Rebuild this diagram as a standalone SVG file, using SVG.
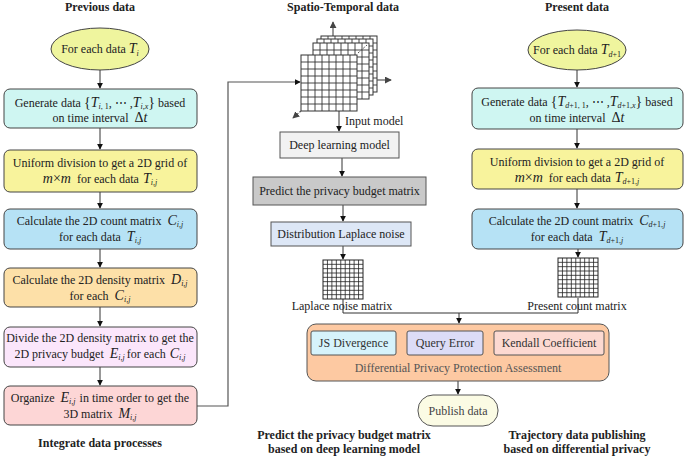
<svg xmlns="http://www.w3.org/2000/svg" xmlns:xlink="http://www.w3.org/1999/xlink" width="685" height="458" viewBox="0 0 685 458">
<style>
text{font-family:"Liberation Serif","Times New Roman",serif;font-size:12px;fill:#222}
.h{font-weight:bold;font-size:12px}
.c{text-anchor:middle}
.m{font-style:italic;font-size:14px}
.mu{font-size:14px}
.s{font-style:italic;font-size:8px}
.u{font-size:8px}
.box{stroke:#444;stroke-width:1}
.ln{fill:none;stroke:#333;stroke-width:1}
.gl{fill:none;stroke:#555;stroke-width:1.2}
</style>
<defs>
<marker id="ah" viewBox="0 0 8 8" refX="7" refY="4" markerWidth="6" markerHeight="6" orient="auto" markerUnits="userSpaceOnUse"><path d="M0,0 L8,4 L0,8 z" fill="#111"/></marker>
<marker id="ag" viewBox="0 0 8 8" refX="7" refY="4" markerWidth="7" markerHeight="7" orient="auto" markerUnits="userSpaceOnUse"><path d="M0,0 L8,4 L0,8 z" fill="#444"/></marker>
<g id="g56">
<rect x="0" y="0" width="56" height="56" fill="#fff" stroke="#333" stroke-width="1"/>
<path d="M7,0V56M14,0V56M21,0V56M28,0V56M35,0V56M42,0V56M49,0V56M0,7H56M0,14H56M0,21H56M0,28H56M0,35H56M0,42H56M0,49H56" stroke="#333" stroke-width="0.9"/>
</g>
<g id="g40">
<rect x="0" y="0" width="40" height="39" fill="#fff" stroke="#222" stroke-width="1"/>
<path d="M4.44,0V39M8.89,0V39M13.33,0V39M17.78,0V39M22.22,0V39M26.67,0V39M31.11,0V39M35.56,0V39M0,4.33H40M0,8.67H40M0,13H40M0,17.33H40M0,21.67H40M0,26H40M0,30.33H40M0,34.67H40" stroke="#222" stroke-width="0.8"/>
</g>
</defs>

<!-- headers -->
<text class="h c" x="100" y="11">Previous data</text>
<text class="h c" x="343" y="11">Spatio-Temporal data</text>
<text class="h c" x="577" y="11">Present data</text>

<!-- connectors -->
<g id="connectors">
<path class="ln" d="M100,70V88" marker-end="url(#ah)"/>
<path class="ln" d="M100,128V149" marker-end="url(#ah)"/>
<path class="ln" d="M100,192V208" marker-end="url(#ah)"/>
<path class="ln" d="M100,249V267" marker-end="url(#ah)"/>
<path class="ln" d="M100,307V326" marker-end="url(#ah)"/>
<path class="ln" d="M100,367V385" marker-end="url(#ah)"/>
<path class="gl" d="M197,406H228V82H300" marker-end="url(#ah)"/>
<path class="ln" d="M339,111V131" marker-end="url(#ah)"/>
<path class="ln" d="M342,158V176" marker-end="url(#ah)"/>
<path class="ln" d="M343,205V221" marker-end="url(#ah)"/>
<path class="ln" d="M343,246V259" marker-end="url(#ah)"/>
<path class="ln" d="M343,299V313H578V298"/>
<path class="ln" d="M459,313V323" marker-end="url(#ah)"/>
<path class="ln" d="M458,381V394" marker-end="url(#ah)"/>
<path class="ln" d="M577,70V87" marker-end="url(#ah)"/>
<path class="ln" d="M577,129V148" marker-end="url(#ah)"/>
<path class="ln" d="M577,189V208" marker-end="url(#ah)"/>
<path class="ln" d="M578,249V257" marker-end="url(#ah)"/>
</g>

<!-- left column -->
<g id="l0">
<ellipse cx="100" cy="49" rx="49" ry="21" fill="#eff59e" class="box"/>
<text class="c" x="100" y="53">For each data <tspan class="m">T</tspan><tspan class="s" dy="3">i</tspan></text>
</g>
<g id="l1">
<rect x="4" y="89" width="193" height="39" rx="6" fill="#cff6f2" class="box"/>
<text class="c" x="100" y="107">Generate data <tspan class="mu">{</tspan><tspan class="m">T</tspan><tspan class="s" dy="2">i</tspan><tspan class="u">, 1</tspan><tspan dy="-2">, ⋯ ,</tspan><tspan class="m">T</tspan><tspan class="s" dy="2">i,x</tspan><tspan class="mu" dy="-2">}</tspan> based</text>
<text class="c" x="100" y="122">on time interval <tspan class="mu" dx="3">Δ</tspan><tspan class="m">t</tspan></text>
</g>
<g id="l2">
<rect x="4" y="150" width="193" height="42" rx="6" fill="#f8f39c" class="box"/>
<text class="c" x="100" y="167">Uniform division to get a 2D grid of</text>
<text class="c" x="100" y="183"><tspan class="m">m</tspan><tspan class="mu">×</tspan><tspan class="m">m</tspan><tspan dx="6">for each data</tspan><tspan class="m" dx="4">T</tspan><tspan class="s" dy="2">i,j</tspan></text>
</g>
<g id="l3">
<rect x="4" y="209" width="193" height="40" rx="6" fill="#b6e2f5" class="box"/>
<text class="c" x="100" y="225">Calculate the 2D count matrix <tspan class="m" dx="3">C</tspan><tspan class="s" dy="2">i,j</tspan></text>
<text class="c" x="100" y="241">for each data <tspan class="m" dx="3">T</tspan><tspan class="s" dy="2">i,j</tspan></text>
</g>
<g id="l4">
<rect x="4" y="268" width="193" height="39" rx="6" fill="#fde0a8" class="box"/>
<text class="c" x="100" y="284">Calculate the 2D density matrix <tspan class="m" dx="3">D</tspan><tspan class="s" dy="2">i,j</tspan></text>
<text class="c" x="100" y="300">for each <tspan class="m" dx="3">C</tspan><tspan class="s" dy="2">i,j</tspan></text>
</g>
<g id="l5">
<rect x="4" y="327" width="193" height="40" rx="6" fill="#fbe6fb" class="box"/>
<text class="c" x="100" y="342">Divide the 2D density matrix to get the</text>
<text class="c" x="100" y="358">2D privacy budget <tspan class="m" dx="3">E</tspan><tspan class="s" dy="2">i,j</tspan><tspan dy="-2" dx="2">for each</tspan><tspan class="m" dx="4">C</tspan><tspan class="s" dy="2">i,j</tspan></text>
</g>
<g id="l6">
<rect x="4" y="386" width="193" height="39" rx="6" fill="#fdd6d6" class="box"/>
<text class="c" x="100" y="402">Organize <tspan class="m" dx="3">E</tspan><tspan class="s" dy="2">i,j</tspan><tspan dy="-2" dx="4">in time order to get the</tspan></text>
<text class="c" x="100" y="418">3D matrix <tspan class="m" dx="3">M</tspan><tspan class="s" dy="2">i,j</tspan></text>
</g>
<text class="h c" x="100" y="447">Integrate data processes</text>

<!-- middle: 3D grid -->
<g id="st-grid">
<path class="gl" d="M333,36V22" marker-end="url(#ag)"/>
<use xlink:href="#g56" x="321" y="36"/>
<use xlink:href="#g56" x="317" y="39"/>
<use xlink:href="#g56" x="313" y="43"/>
<use xlink:href="#g56" x="301" y="55"/>
<path d="M358,53L367,45" stroke="#555" stroke-width="1" stroke-dasharray="2,1.5" fill="none"/>
<path class="gl" d="M377,80H391" marker-end="url(#ag)"/>
<path d="M301,111L293,118" stroke="#555" stroke-width="1.2" stroke-dasharray="2,1.5" fill="none" marker-end="url(#ag)"/>
</g>
<text x="345" y="125">Input model</text>
<g id="dl">
<rect x="280" y="132" width="119" height="26" fill="#f2f2f2" stroke="#555"/>
<text class="c" x="339.5" y="149">Deep learning model</text>
</g>
<g id="pred">
<rect x="253" y="177" width="173" height="28" fill="#c9c9c9" stroke="#555"/>
<text class="c" x="339.5" y="195">Predict the privacy budget matrix</text>
</g>
<g id="dist">
<rect x="271" y="222" width="140" height="24" fill="#dde7f6" stroke="#555"/>
<text class="c" x="341" y="238">Distribution Laplace noise</text>
</g>
<g id="laplace">
<use xlink:href="#g40" x="323" y="260"/>
<text class="c" x="342" y="310">Laplace noise matrix</text>
</g>

<!-- right column -->
<g id="r0">
<ellipse cx="577" cy="50" rx="49" ry="20" fill="#eff59e" class="box"/>
<text class="c" x="577" y="54">For each data <tspan class="m">T</tspan><tspan class="s" dy="3">d</tspan><tspan class="u">+1</tspan></text>
</g>
<g id="r1">
<rect x="472" y="88" width="211" height="41" rx="6" fill="#cff6f2" class="box"/>
<text class="c" x="577" y="106">Generate data <tspan class="mu">{</tspan><tspan class="m">T</tspan><tspan class="s" dy="2">d</tspan><tspan class="u">+1, 1</tspan><tspan dy="-2">, ⋯ ,</tspan><tspan class="m">T</tspan><tspan class="s" dy="2">d</tspan><tspan class="u">+1,</tspan><tspan class="s">x</tspan><tspan class="mu" dy="-2">}</tspan> based</text>
<text class="c" x="577" y="122">on time interval <tspan class="mu" dx="3">Δ</tspan><tspan class="m">t</tspan></text>
</g>
<g id="r2">
<rect x="472" y="149" width="211" height="40" rx="6" fill="#f8f39c" class="box"/>
<text class="c" x="577" y="166">Uniform division to get a 2D grid of</text>
<text class="c" x="577" y="182"><tspan class="m">m</tspan><tspan class="mu">×</tspan><tspan class="m">m</tspan><tspan dx="6">for each data</tspan><tspan class="m" dx="4">T</tspan><tspan class="s" dy="2">d</tspan><tspan class="u">+1,</tspan><tspan class="s">j</tspan></text>
</g>
<g id="r3">
<rect x="472" y="209" width="211" height="40" rx="6" fill="#b6e2f5" class="box"/>
<text class="c" x="577" y="225">Calculate the 2D count matrix <tspan class="m" dx="3">C</tspan><tspan class="s" dy="2">d</tspan><tspan class="u">+1,</tspan><tspan class="s">j</tspan></text>
<text class="c" x="577" y="241">for each data <tspan class="m" dx="3">T</tspan><tspan class="s" dy="2">d</tspan><tspan class="u">+1,</tspan><tspan class="s">j</tspan></text>
</g>
<g id="present">
<use xlink:href="#g40" x="558" y="258"/>
<text class="c" x="577" y="310">Present count matrix</text>
</g>

<!-- assessment -->
<g id="assess">
<rect x="307" y="324" width="302" height="57" rx="9" fill="#fdc9a2" stroke="#555"/>
<rect x="311" y="331" width="85" height="24" rx="2" fill="#d6f3fb" stroke="#555"/>
<text class="c" x="353.5" y="347" style="fill:#333">JS Divergence</text>
<rect x="407" y="331" width="76" height="24" rx="2" fill="#dcdcf7" stroke="#555"/>
<text class="c" x="445" y="347" style="fill:#333">Query Error</text>
<rect x="494" y="331" width="110" height="24" rx="2" fill="#fcd9d1" stroke="#555"/>
<text class="c" x="549" y="347" style="fill:#333">Kendall Coefficient</text>
<text class="c" x="458" y="372" style="fill:#555">Differential Privacy Protection Assessment</text>
</g>
<g id="publish">
<rect x="418" y="395" width="80" height="31" rx="15" fill="#fbfbe4" stroke="#555"/>
<text class="c" x="458" y="415" style="fill:#444">Publish data</text>
</g>

<text class="h c" x="344" y="439">Predict the privacy budget matrix</text>
<text class="h c" x="344" y="453">based on deep learning model</text>
<text class="h c" x="577" y="439">Trajectory data publishing</text>
<text class="h c" x="577" y="453">based on differential privacy</text>
</svg>
